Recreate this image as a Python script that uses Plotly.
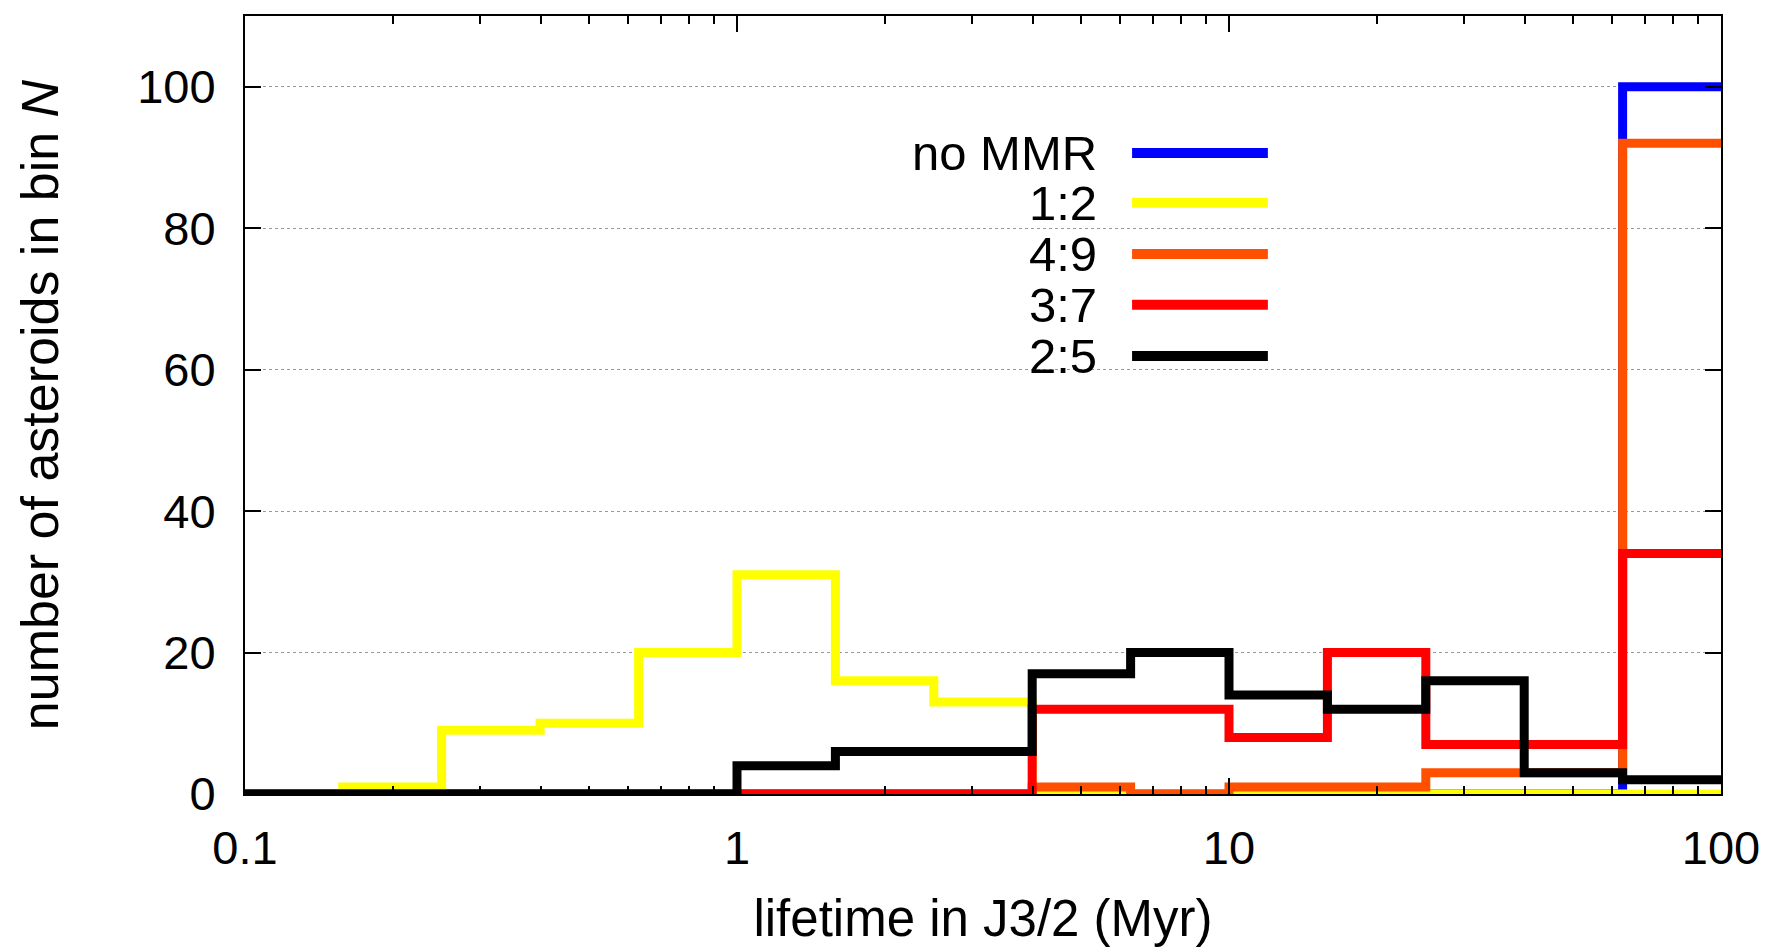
import plotly.graph_objects as go

# Bin edges (lifetime in Myr, 5 bins per decade)
bin_edges = [0.1, 0.158, 0.251, 0.398, 0.631, 1.0, 1.585, 2.512, 3.981, 6.31,
             10.0, 15.85, 25.12, 39.81, 63.1, 100.0]

# Counts per bin
no_mmr = [0, 0, 0, 0, 0, 0, 0, 0, 0, 0, 0, 0, 0, 0, 100]
r_1_2  = [0, 1, 9, 10, 20, 31, 16, 13, 0, 0, 0, 0, 0, 0, 0]
r_4_9  = [0, 0, 0, 0, 0, 0, 0, 0, 1, 0, 1, 1, 3, 3, 92]
r_3_7  = [0, 0, 0, 0, 0, 0, 0, 0, 12, 12, 8, 20, 7, 7, 34]
r_2_5  = [0, 0, 0, 0, 0, 4, 6, 6, 17, 20, 14, 12, 16, 3, 2]

series_names = ["no MMR", "1:2", "4:9", "3:7", "2:5"]
series_vals = [no_mmr, r_1_2, r_4_9, r_3_7, r_2_5]
series_colors = ["#0000FF", "#FFFF00", "#FF5000", "#FF0000", "#000000"]

y_ticks = [0, 20, 40, 60, 80, 100]
x_ticks = [0.1, 1, 10, 100]
x_ticklabels = ["0.1", "1", "10", "100"]
x_minor_ticks = [m * d for d in (0.1, 1, 10) for m in range(2, 10)]

FONT = "Liberation Sans, Arial, Helvetica, sans-serif"

fig = go.Figure()
for name, vals, col in zip(series_names, series_vals, series_colors):
    fig.add_trace(go.Scatter(
        x=bin_edges, y=vals + [vals[-1]],
        mode="lines", line=dict(color=col, width=9, shape="hv"),
        name=name, showlegend=False,
    ))

fig.update_layout(
    width=1772, height=947,
    margin=dict(l=245, r=51, t=16, b=153),
    paper_bgcolor="white", plot_bgcolor="white",
    font=dict(family=FONT, color="black", size=46),
)

fig.update_xaxes(
    type="log", range=[-1, 2], automargin=False,
    tickvals=x_ticks, ticktext=x_ticklabels,
    ticks="inside", ticklen=16, tickwidth=2, tickcolor="black",
    minor=dict(tickvals=x_minor_ticks, ticks="inside", ticklen=8, tickwidth=1.5,
               tickcolor="black", showgrid=False),
    showline=True, linecolor="black", linewidth=2, mirror="ticks",
    showgrid=False, zeroline=False,
    tickfont=dict(size=47),
    ticklabelstandoff=12,
    title=dict(text="lifetime in J3/2 (Myr)", font=dict(size=51), standoff=46),
)
fig.update_yaxes(
    range=[0, 110], automargin=False,
    tickvals=y_ticks,
    ticks="inside", ticklen=16, tickwidth=2, tickcolor="black",
    showline=True, linecolor="black", linewidth=2, mirror="ticks",
    showgrid=True, gridcolor="#999999", gridwidth=1, griddash="dot",
    zeroline=False,
    tickfont=dict(size=47),
    ticklabelstandoff=18,
    title=dict(text="number of asteroids in bin <i>N</i>", font=dict(size=52), standoff=62),
)

# Legend (custom, text to the left of line sample)
fig.add_shape(type="rect", xref="paper", yref="paper",
              x0=0.454, x1=0.713, y0=0.530, y1=0.861,
              fillcolor="white", line=dict(width=0), layer="between")
leg_y = [0.824, 0.760, 0.694, 0.629, 0.563]
for name, col, yy in zip(series_names, series_colors, leg_y):
    fig.add_annotation(xref="paper", yref="paper", x=0.578, y=yy,
                       text=name, showarrow=False, xanchor="right", yanchor="middle",
                       height=46, valign="middle", borderpad=0,
                       font=dict(size=49, color="black"))
    fig.add_shape(type="line", xref="paper", yref="paper",
                  x0=0.601, x1=0.693, y0=yy, y1=yy,
                  line=dict(color=col, width=10))

fig.write_html("out.html")
